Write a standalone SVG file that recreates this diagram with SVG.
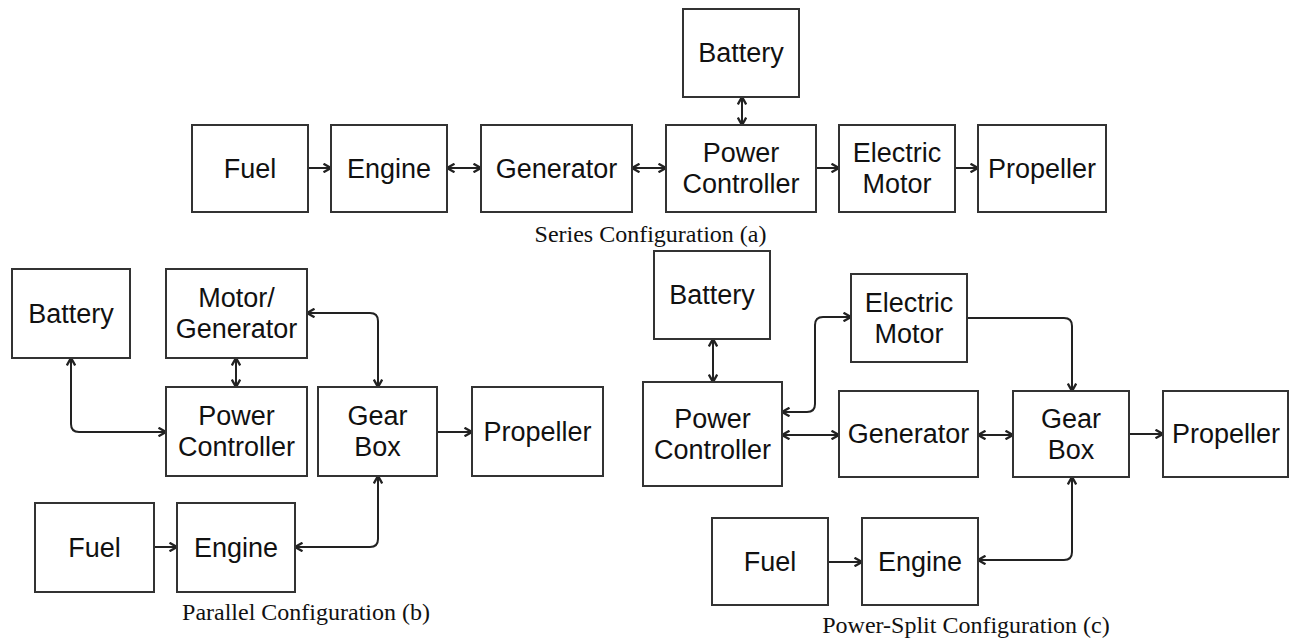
<svg xmlns="http://www.w3.org/2000/svg" width="1289" height="639" viewBox="0 0 1289 639">
<defs>
<style>
.box{fill:#fff;stroke:#333;stroke-width:2}
.lbl{font-family:"Liberation Sans",Arial,sans-serif;font-size:27px;fill:#111;text-anchor:middle}
.cap{font-family:"Liberation Serif","Times New Roman",serif;font-size:24px;fill:#111;text-anchor:middle}
.c{fill:none;stroke:#222;stroke-width:2}
.e{marker-end:url(#ah)}
.b{marker-start:url(#ah);marker-end:url(#ah)}
</style>
<marker id="ah" viewBox="0 0 10 10" refX="9" refY="5" markerWidth="10" markerHeight="10" markerUnits="userSpaceOnUse" orient="auto-start-reverse">
<path d="M1.5,0.8 L9,5 L1.5,9.2" fill="none" stroke="#222" stroke-width="2.4" stroke-linejoin="miter"/>
</marker>
</defs>
<rect width="1289" height="639" fill="#fff"/>

<g id="connectors">
<!-- series -->
<path class="c e" d="M308,168 L331,168"/>
<path class="c b" d="M447,168 L481,168"/>
<path class="c b" d="M632,168 L666,168"/>
<path class="c b" d="M742,97 L742,125"/>
<path class="c e" d="M816,168 L839,168"/>
<path class="c e" d="M955,168 L978,168"/>
<!-- parallel -->
<path class="c b" d="M71,358 L71,424 Q71,432 79,432 L166,432"/>
<path class="c b" d="M236,358 L236,387"/>
<path class="c b" d="M307,313 L370,313 Q378,313 378,321 L378,387"/>
<path class="c b" d="M378,476 L378,539 Q378,547 370,547 L295,547"/>
<path class="c e" d="M437,432 L472,432"/>
<path class="c e" d="M154,547 L177,547"/>
<!-- power split -->
<path class="c b" d="M713,339 L713,382"/>
<path class="c b" d="M782,412 L807,412 Q815,412 815,404 L815,325 Q815,317 823,317 L851,317"/>
<path class="c b" d="M782,435 L839,435"/>
<path class="c b" d="M978,435 L1013,435"/>
<path class="c e" d="M967,318 L1064,318 Q1072,318 1072,326 L1072,391"/>
<path class="c e" d="M1129,434 L1163,434"/>
<path class="c b" d="M1072,477 L1072,552 Q1072,560 1064,560 L978,560"/>
<path class="c e" d="M828,562 L862,562"/>
</g>

<!-- Series configuration -->
<g id="a-fuel"><rect class="box" x="192" y="125" width="116" height="87"/><text class="lbl" x="250" y="177.5">Fuel</text></g>
<g id="a-engine"><rect class="box" x="331" y="125" width="116" height="87"/><text class="lbl" x="389" y="177.5">Engine</text></g>
<g id="a-generator"><rect class="box" x="481" y="125" width="151" height="87"/><text class="lbl" x="556.5" y="177.5">Generator</text></g>
<g id="a-battery"><rect class="box" x="683" y="9" width="116" height="88"/><text class="lbl" x="741" y="62">Battery</text></g>
<g id="a-power-controller"><rect class="box" x="666" y="125" width="150" height="87"/><text class="lbl" x="741" y="162">Power</text><text class="lbl" x="741" y="193">Controller</text></g>
<g id="a-electric-motor"><rect class="box" x="839" y="125" width="116" height="87"/><text class="lbl" x="897" y="162">Electric</text><text class="lbl" x="897" y="193">Motor</text></g>
<g id="a-propeller"><rect class="box" x="978" y="125" width="128" height="87"/><text class="lbl" x="1042" y="177.5">Propeller</text></g>
<text class="cap" x="650.5" y="242">Series Configuration (a)</text>

<!-- Parallel configuration -->
<g id="b-battery"><rect class="box" x="12" y="269" width="118" height="89"/><text class="lbl" x="71" y="322.5">Battery</text></g>
<g id="b-motor-generator"><rect class="box" x="166" y="269" width="141" height="89"/><text class="lbl" x="236.5" y="307">Motor/</text><text class="lbl" x="236.5" y="338">Generator</text></g>
<g id="b-power-controller"><rect class="box" x="166" y="387" width="141" height="89"/><text class="lbl" x="236.5" y="425">Power</text><text class="lbl" x="236.5" y="456">Controller</text></g>
<g id="b-gear-box"><rect class="box" x="318" y="387" width="119" height="89"/><text class="lbl" x="377.5" y="425">Gear</text><text class="lbl" x="377.5" y="456">Box</text></g>
<g id="b-propeller"><rect class="box" x="472" y="387" width="131" height="89"/><text class="lbl" x="537.5" y="441">Propeller</text></g>
<g id="b-fuel"><rect class="box" x="35" y="503" width="119" height="89"/><text class="lbl" x="94.5" y="556.5">Fuel</text></g>
<g id="b-engine"><rect class="box" x="177" y="503" width="118" height="89"/><text class="lbl" x="236" y="556.5">Engine</text></g>
<text class="cap" x="306" y="620">Parallel Configuration (b)</text>

<!-- Power-split configuration -->
<g id="c-battery"><rect class="box" x="654" y="251" width="116" height="88"/><text class="lbl" x="712" y="304">Battery</text></g>
<g id="c-power-controller"><rect class="box" x="643" y="382" width="139" height="104"/><text class="lbl" x="712.5" y="427.5">Power</text><text class="lbl" x="712.5" y="458.5">Controller</text></g>
<g id="c-electric-motor"><rect class="box" x="851" y="274" width="116" height="88"/><text class="lbl" x="909" y="311.5">Electric</text><text class="lbl" x="909" y="342.5">Motor</text></g>
<g id="c-generator"><rect class="box" x="839" y="391" width="139" height="86"/><text class="lbl" x="908.5" y="443">Generator</text></g>
<g id="c-gear-box"><rect class="box" x="1013" y="391" width="116" height="86"/><text class="lbl" x="1071" y="427.5">Gear</text><text class="lbl" x="1071" y="458.5">Box</text></g>
<g id="c-propeller"><rect class="box" x="1163" y="391" width="125" height="86"/><text class="lbl" x="1226" y="443">Propeller</text></g>
<g id="c-fuel"><rect class="box" x="712" y="518" width="116" height="87"/><text class="lbl" x="770" y="570.5">Fuel</text></g>
<g id="c-engine"><rect class="box" x="862" y="518" width="116" height="87"/><text class="lbl" x="920" y="570.5">Engine</text></g>
<text class="cap" x="966" y="633">Power-Split Configuration (c)</text>
</svg>
